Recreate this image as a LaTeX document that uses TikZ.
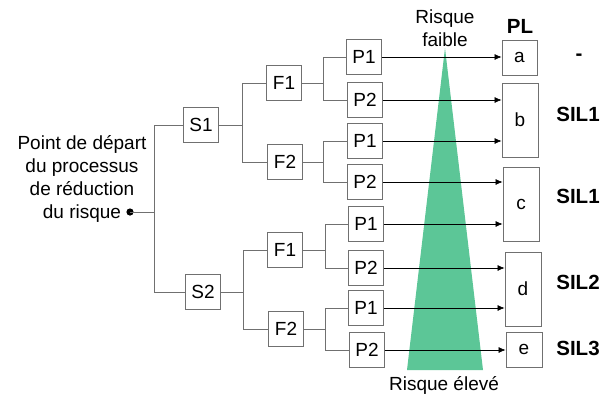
\documentclass[tikz,border=0pt]{standalone}
\usepackage{fontspec}
\setmainfont{Liberation Sans}
\usetikzlibrary{arrows.meta}
\definecolor{tri}{HTML}{5CC697}
\definecolor{ln}{HTML}{707070}
\begin{document}
\begin{tikzpicture}[x=1pt,y=-1pt,
  box/.style={draw=ln,line width=0.9pt,minimum width=35pt,minimum height=35pt,inner sep=0pt,font=\fontsize{19}{23}\selectfont},
  plbox/.style={draw=ln,line width=0.9pt,minimum width=36pt,inner sep=0pt,font=\fontsize{19}{23}\selectfont},
  conn/.style={draw=ln,line width=0.9pt},
  arr/.style={draw=black,line width=0.6pt,-{Latex[length=7pt,width=6pt]}},
  lbl/.style={font=\fontsize{19}{23}\selectfont,inner sep=0pt},
  bl/.style={font=\bfseries\fontsize{20.5}{24}\selectfont,inner sep=0pt}]
\useasboundingbox (0,0) rectangle (611,397);
% triangle
\fill[tri] (445,48) -- (483,370) -- (407,370) -- cycle;
% start
\node[lbl,align=center] (start) at (82,179) {Point de départ\\du processus\\de réduction\\du risque};
\coordinate (dot) at (130,212);
\fill (dot) circle (3.6pt);
% S
\node[box] (S1) at (201,125) {S1};
\node[box] (S2) at (203,292) {S2};
\node[box] (F1a) at (284,83) {F1};
\node[box] (F2a) at (285,162) {F2};
\node[box] (F1b) at (285,250) {F1};
\node[box] (F2b) at (286,329) {F2};
\node[box] (P1) at (364,57) {P1};
\node[box] (P2) at (365,100) {P2};
\node[box] (P3) at (365,141) {P1};
\node[box] (P4) at (365,182) {P2};
\node[box] (P5) at (366,224) {P1};
\node[box] (P6) at (366,268) {P2};
\node[box] (P7) at (366,308) {P1};
\node[box] (P8) at (367,350) {P2};
% tree connectors
\draw[conn] (dot) -- (154,212);
\draw[conn] (154,212) |- (S1.west);
\draw[conn] (154,212) |- (S2.west);
\draw[conn] (S1.east) -- ++(23,0) |- (F1a.west);
\draw[conn] (S1.east) -- ++(23,0) |- (F2a.west);
\draw[conn] (S2.east) -- ++(22,0) |- (F1b.west);
\draw[conn] (S2.east) -- ++(22,0) |- (F2b.west);
\draw[conn] (F1a.east) -- (323,83) |- (P1.west);
\draw[conn] (F1a.east) -- (323,83) |- (P2.west);
\draw[conn] (F2a.east) -- (323,162) |- (P3.west);
\draw[conn] (F2a.east) -- (323,162) |- (P4.west);
\draw[conn] (F1b.east) -- (325,250) |- (P5.west);
\draw[conn] (F1b.east) -- (325,250) |- (P6.west);
\draw[conn] (F2b.east) -- (325,329) |- (P7.west);
\draw[conn] (F2b.east) -- (325,329) |- (P8.west);
% PL boxes
\node[bl] (PL) at (520,26) {PL};
\node[plbox,minimum width=35pt,minimum height=35pt] (a) at (519.5,57.5) {a};
\node[plbox,minimum height=74pt] (b) at (520,120) {b};
\node[plbox,minimum height=74pt] (c) at (521,204) {c};
\node[plbox,minimum height=74pt] (d) at (523,289) {d};
\node[plbox,minimum height=35pt] (e) at (524,349.5) {e};
% arrows
\draw[arr] (P1.east) -- (a.west |- P1.east);
\draw[arr] (P2.east) -- (b.west |- P2.east);
\draw[arr] (P3.east) -- (b.west |- P3.east);
\draw[arr] (P4.east) -- (c.west |- P4.east);
\draw[arr] (P5.east) -- (c.west |- P5.east);
\draw[arr] (P6.east) -- (d.west |- P6.east);
\draw[arr] (P7.east) -- (d.west |- P7.east);
\draw[arr] (P8.east) -- (e.west |- P8.east);
% labels
\node[lbl,align=center] (rf) at (445,28) {Risque\\faible};
\node[lbl] (re) at (444,385) {Risque élevé};
\node[bl] (l1) at (579,57) {-};
\node[bl] (l2) at (578,114) {SIL1};
\node[bl] (l3) at (578,196) {SIL1};
\node[bl] (l4) at (578,282) {SIL2};
\node[bl] (l5) at (578,348) {SIL3};
\end{tikzpicture}
\end{document}
